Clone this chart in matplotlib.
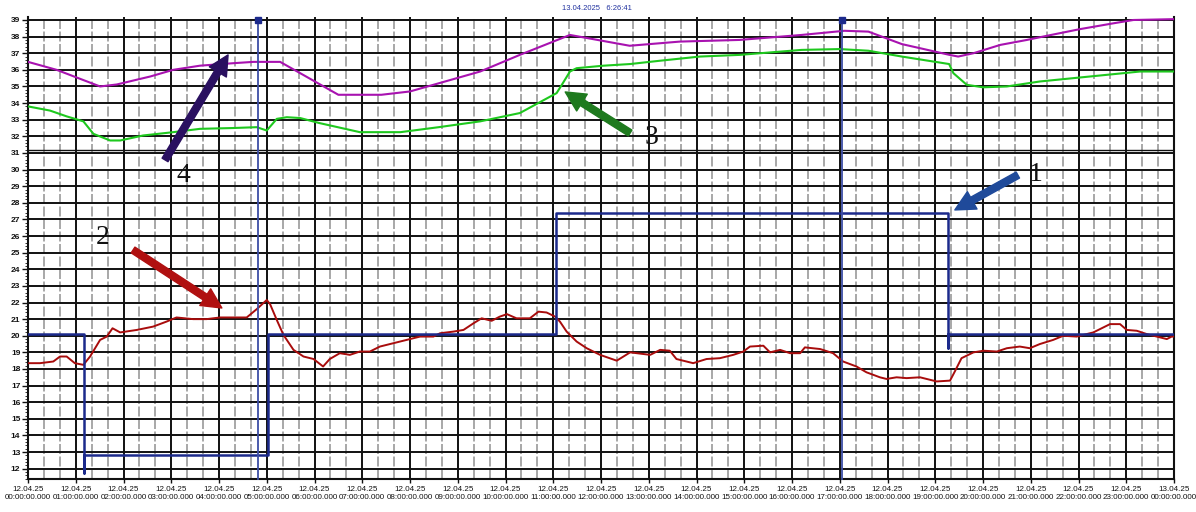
import matplotlib
matplotlib.use("Agg")
import matplotlib.pyplot as plt
from matplotlib.ticker import MultipleLocator, FixedLocator

# ---- data (hours since 12.04.25 00:00) ----
red_h = [0, 0.25, 0.53, 0.67, 0.81, 0.98, 1.16, 1.30, 1.51, 1.65, 1.77, 1.93, 2.28, 2.62, 2.90,
         3.11, 3.46, 3.74, 4.02, 4.30, 4.58, 4.79, 5.00, 5.07, 5.21, 5.35, 5.56, 5.77, 5.98, 6.18,
         6.32, 6.53, 6.74, 6.95, 7.16, 7.37, 7.65, 7.93, 8.21, 8.49, 8.63, 8.91, 9.12, 9.33, 9.50,
         9.71, 9.88, 10.03, 10.23, 10.51, 10.69, 10.86, 11.04, 11.14, 11.28, 11.49, 11.70, 11.98,
         12.33, 12.61, 13.03, 13.24, 13.44, 13.58, 13.93, 14.21, 14.49, 14.77, 14.98, 15.12, 15.40,
         15.54, 15.75, 15.96, 16.17, 16.27, 16.59, 16.86, 17.07, 17.35, 17.56, 17.84, 17.98, 18.19,
         18.40, 18.68, 19.03, 19.31, 19.41, 19.55, 19.80, 20.01, 20.29, 20.50, 20.77, 20.98, 21.19,
         21.47, 21.68, 21.96, 22.31, 22.66, 22.87, 23.01, 23.22, 23.43, 23.64, 23.85, 23.95, 24.0]
red_v = [18.35, 18.35, 18.45, 18.75, 18.75, 18.35, 18.25, 18.75, 19.75, 19.95, 20.45, 20.2, 20.35,
         20.55, 20.85, 21.1, 21.0, 21.0, 21.1, 21.1, 21.1, 21.6, 22.15, 21.9, 20.95, 20.05, 19.15,
         18.75, 18.6, 18.15, 18.6, 18.95, 18.85, 19.05, 19.05, 19.35, 19.55, 19.75, 19.95, 19.95,
         20.15, 20.25, 20.35, 20.75, 21.05, 20.9, 21.15, 21.3, 21.05, 21.05, 21.45, 21.4, 21.15,
         20.85, 20.25, 19.65, 19.25, 18.85, 18.5, 19.0, 18.85, 19.15, 19.1, 18.6, 18.35, 18.6, 18.65,
         18.85, 19.05, 19.35, 19.4, 19.0, 19.15, 18.95, 18.95, 19.3, 19.2, 18.95, 18.45, 18.15, 17.8,
         17.5, 17.4, 17.5, 17.45, 17.5, 17.25, 17.3, 17.85, 18.65, 19.0, 19.1, 19.05, 19.25, 19.35,
         19.25, 19.5, 19.75, 20.0, 19.95, 20.2, 20.7, 20.7, 20.35, 20.3, 20.1, 19.95, 19.8, 19.95, 19.95]

mag_h = [0, 0.6, 1.51, 1.86, 2.56, 3.04, 3.60, 4.30, 4.72, 5.28, 5.70, 6.5, 7.4, 8.0, 9.47, 10.3,
         11.35, 12.6, 13.65, 14.9, 16.2, 17.1, 17.6, 18.3, 19.3, 19.48, 19.8, 20.36, 20.92, 21.34,
         22.03, 22.73, 23.15, 24.0]
mag_v = [36.48, 36.0, 35.0, 35.12, 35.6, 36.0, 36.25, 36.4, 36.48, 36.48, 35.8, 34.5, 34.5, 34.7,
         35.9, 36.9, 38.1, 37.45, 37.7, 37.8, 38.1, 38.35, 38.3, 37.55, 36.9, 36.8, 37.0, 37.5, 37.8,
         38.05, 38.45, 38.8, 39.0, 39.05]

grn_h = [0, 0.46, 0.81, 1.16, 1.37, 1.72, 1.93, 2.41, 3.04, 3.60, 4.30, 4.79, 5.0, 5.21, 5.42, 5.70,
         6.1, 6.95, 7.8, 8.6, 9.47, 10.3, 11.07, 11.18, 11.35, 11.49, 12.05, 12.61, 13.24, 14.07,
         14.9, 16.2, 17.0, 17.6, 18.3, 19.29, 19.38, 19.66, 20.0, 20.5, 21.19, 21.89, 22.59, 23.29, 24.0]
grn_v = [33.8, 33.55, 33.2, 32.9, 32.15, 31.75, 31.75, 32.05, 32.25, 32.45, 32.5, 32.55, 32.35, 33.05,
         33.15, 33.1, 32.8, 32.25, 32.25, 32.55, 32.9, 33.4, 34.6, 35.1, 35.9, 36.1, 36.25, 36.35,
         36.55, 36.8, 36.9, 37.2, 37.25, 37.15, 36.8, 36.35, 35.8, 35.1, 34.95, 35.0, 35.3, 35.5,
         35.7, 35.9, 35.9]

# setpoint steps (includes the short dips drawn at the switching instants)
blue_h = [0, 1.17, 1.17, 1.17, 5.03, 5.03, 11.06, 11.06, 19.27, 19.27, 19.27, 24.0]
blue_v = [20.1, 20.1, 11.75, 12.8, 12.8, 20.1, 20.1, 27.4, 27.4, 19.25, 20.1, 20.1]

cursor_h = [4.82, 17.05]
hour_ticks = list(range(0, 25))
tick_labels = [("12.04.25\n%02d:00:00.000" % h) if h < 24 else "13.04.25\n00:00:00.000"
               for h in hour_ticks]
title_text = "13.04.2025   6:26:41"

# ---- figure ----
fig = plt.figure(figsize=(11.96, 5.12), dpi=100)
ax = fig.add_axes([28 / 1196, 33 / 512, (1174 - 28) / 1196, (479 - 17) / 512])
ax.set_xlim(0, 24)
ax.set_ylim(11.38, 39.18)

# grid: 20-minute grey lines, hourly black lines, black line every unit
for k in range(0, 73):
    x = k / 3
    if k % 3 == 0:
        ax.axvline(x, color="#111111", lw=1.4, zorder=1)
    else:
        ax.axvline(x, color="#9a9a9a", lw=1.2, ls=(0, (6, 1.5)), zorder=1)
for v in range(12, 40):
    ax.axhline(v, color="#111111", lw=1.4, zorder=1)
# boundary between the two stacked scales
ax.axhline(31.17, color="#111111", lw=1.0, zorder=1)

# series
ax.plot(mag_h, mag_v, color="#a812b0", lw=1.5, zorder=3)
ax.plot(grn_h, grn_v, color="#1ec81e", lw=1.5, zorder=3)
ax.plot(red_h, red_v, color="#a80c0c", lw=1.4, zorder=3)
ax.plot(blue_h, blue_v, color="#1c2a8c", lw=1.8, zorder=4)

# cursors
for c in cursor_h:
    ax.plot([c, c], [11.38, 39.0], color="#3d4ea6", lw=1.3, zorder=5, clip_on=False)
    ax.plot([c], [39.0], marker="s", ms=4.5, color="#1c2a8c", zorder=6, clip_on=False)

# annotation arrows with numbers
arrows = [
    ("4", (2.87, 30.58), (4.19, 36.9), (3.25, 29.67), "#2a1060"),
    ("3", (12.61, 32.2), (11.25, 34.67), (13.05, 31.9), "#1e7a1e"),
    ("1", (20.73, 29.67), (19.41, 27.57), (21.09, 29.7), "#1f4a9a"),
    ("2", (2.2, 25.16), (4.06, 21.67), (1.57, 25.94), "#b01010"),
]
for lab, tail, head, pos, col in arrows:
    ax.annotate("", xy=head, xytext=tail,
                arrowprops=dict(arrowstyle="simple,head_length=1.3,head_width=1.3,tail_width=0.45",
                                color=col, mutation_scale=11, shrinkA=0, shrinkB=0), zorder=7)
    ax.text(pos[0], pos[1], lab, fontsize=20, family="Liberation Serif", color="#111111",
            ha="center", va="center", zorder=7)

# axes, ticks
for s in ["left", "bottom", "right"]:
    ax.spines[s].set_color("#111111")
    ax.spines[s].set_linewidth(1.5)
ax.spines["top"].set_visible(False)

ax.yaxis.set_major_locator(FixedLocator(list(range(12, 40))))
ax.yaxis.set_minor_locator(MultipleLocator(0.2))
ax.xaxis.set_major_locator(FixedLocator(hour_ticks))
ax.set_xticklabels(tick_labels)
ax.tick_params(axis="y", which="major", length=4, width=1, labelsize=6, pad=1.5, colors="#111111")
ax.tick_params(axis="y", which="minor", length=2, width=0.7, colors="#333333")
ax.tick_params(axis="x", which="major", length=3, width=1, labelsize=5.8, pad=2, colors="#111111")
for t in ax.get_yticklabels() + ax.get_xticklabels():
    t.set_family("Liberation Sans")
for t in ax.get_yticklabels():
    t.set_fontweight("bold")

fig.text(597 / 1196, 1 - 8 / 512, title_text, color="#2233a0", fontsize=5.5,
         family="Liberation Sans", ha="center", va="center")

fig.savefig("out.png", dpi=100)
